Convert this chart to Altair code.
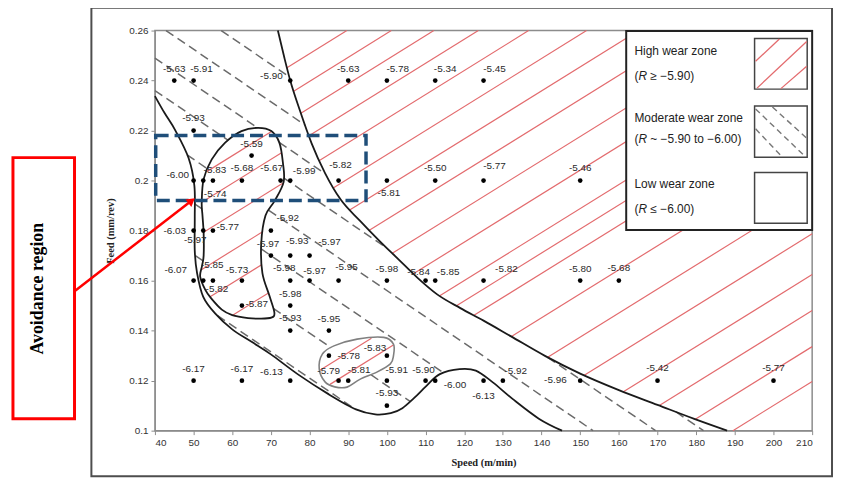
import altair as alt
import numpy as np
import pandas as pd

# ---------------- measured points: speed (m/min), feed (mm/rev), R value ----------------
speed = [45, 50, 75, 90, 100, 112.5, 125,
         50,
         65,
         50, 52.5, 55, 62.5, 72.5, 75, 87.5, 100, 112.5, 125, 150,
         50, 52.5, 55, 70,
         70, 75, 80,
         50, 52.5, 55, 62.5, 75, 80, 87.5, 100, 110, 112.5, 125, 150, 160,
         62.5, 75,
         75, 85,
         85, 100,
         50, 62.5, 75, 87.5, 90, 100, 110, 112.5, 125, 130, 150, 170, 200,
         100]
feed = [0.24, 0.24, 0.24, 0.24, 0.24, 0.24, 0.24,
        0.22,
        0.21,
        0.20, 0.20, 0.20, 0.20, 0.20, 0.20, 0.20, 0.20, 0.20, 0.20, 0.20,
        0.18, 0.18, 0.18, 0.18,
        0.17, 0.17, 0.17,
        0.16, 0.16, 0.16, 0.16, 0.16, 0.16, 0.16, 0.16, 0.16, 0.16, 0.16, 0.16, 0.16,
        0.15, 0.15,
        0.14, 0.14,
        0.13, 0.13,
        0.12, 0.12, 0.12, 0.12, 0.12, 0.12, 0.12, 0.12, 0.12, 0.12, 0.12, 0.12, 0.12,
        0.11]
wear = [-5.63, -5.91, -5.90, -5.63, -5.78, -5.34, -5.45,
        -5.93,
        -5.59,
        -6.00, -5.74, -5.83, -5.68, -5.67, -5.99, -5.82, -5.81, -5.50, -5.77, -5.46,
        -6.03, -5.97, -5.77, -5.92,
        -5.97, -5.93, -5.97,
        -6.07, -5.85, -5.82, -5.73, -5.98, -5.97, -5.95, -5.98, -5.84, -5.85, -5.82, -5.80, -5.68,
        -5.87, -5.98,
        -5.93, -5.95,
        -5.78, -5.83,
        -6.17, -6.17, -6.13, -5.79, -5.81, -5.91, -5.90, -6.00, -6.13, -5.92, -5.96, -5.42, -5.77,
        -5.93]
# label placement relative to its point (pixels)
label_dx = [0, 8, -19, 0, 11, 10, 11,
            0,
            0,
            -16, 12, 2, 0, -9, 14, 2, 2, 0, 11, 0,
            -19, -8, 15, 17,
            -3, 7, 20,
            -18, 9, 4, -5, -6, 5, 8, 0, -7, 13, 23, 0, 0,
            15, 0,
            0, 0,
            20, -12,
            0, 0, -19, -10, 11, 10, -2, 20, 0, 13, -25, 0, 0,
            0]
label_dy = [-12, -12, -5, -12, -12, -12, -12,
            -13,
            -12,
            -6, 14, -11, -13, -13, -10, -16, 13, -13, -15, -13,
            0, 9, -4, -13,
            -12, -15, -14,
            -11, -16, 8, -11, -13, -10, -14, -12, -9, -9, -12, -12, -13,
            -2, -12,
            -13, -12,
            0, -8,
            -12, -12, -9, -10, -11, -11, -11, 4, 16, -10, -1, -13, -13,
            -13]

x_ticks = [40, 50, 60, 70, 80, 90, 100, 110, 120, 130, 140, 150, 160, 170, 180, 190, 200, 210]
y_ticks = [0.10, 0.12, 0.14, 0.16, 0.18, 0.20, 0.22, 0.24, 0.26]

# ---------------- zone boundaries ----------------
high_speed = [71.8, 73.5, 75, 77.5, 80.5, 84, 88, 93, 98, 103, 108, 113, 119, 125, 132, 141, 150, 160, 170, 179.5, 188]
high_feed = [0.26, 0.249, 0.24, 0.228, 0.215, 0.203, 0.1925, 0.184, 0.176, 0.1685, 0.161, 0.1545, 0.149, 0.144,
             0.1378, 0.1298, 0.1228, 0.1162, 0.1103, 0.1047, 0.10]
low_speed = [40, 42.5, 45.3, 48.7, 50.2, 50.3, 50.3, 50.9, 52.5, 55.5, 60, 65, 70, 77, 85, 92, 97, 101, 104, 107,
             110.3, 113.7, 118.8, 123, 127.4, 132.5, 139.3, 145.3]
low_feed = [0.2338, 0.227, 0.22, 0.209, 0.198, 0.185, 0.172, 0.163, 0.1535, 0.147, 0.1405, 0.1355, 0.1305, 0.1225,
            0.1145, 0.1085, 0.1065, 0.107, 0.109, 0.113, 0.118, 0.1226, 0.1246, 0.124, 0.1193, 0.1127, 0.1048, 0.10]
islandB_speed = [52.1, 52.6, 54.7, 58.1, 62.4, 66.7, 70.1, 72.2, 73.1, 73.3, 71, 68.6, 67.5, 67.8, 69.6, 70.9, 70.1,
                 67, 64.1, 60, 57.3, 54.5, 53, 51.7, 52.2, 52.6, 52.6, 52.3]
islandB_feed = [0.1913, 0.2006, 0.2085, 0.2151, 0.2198, 0.2211, 0.2198, 0.2151, 0.2072, 0.1995, 0.192, 0.186, 0.175,
                0.163, 0.154, 0.1472, 0.1452, 0.1448, 0.145, 0.1462, 0.1484, 0.153, 0.1564, 0.1616, 0.166, 0.17,
                0.179, 0.186]
islandC_speed = [82.5, 83.3, 86.3, 92.3, 99.2, 101.7, 101.7, 100.9, 97.4, 93, 89.7, 86.5, 84]
islandC_feed = [0.1247, 0.1306, 0.1339, 0.1366, 0.1373, 0.1346, 0.13, 0.1267, 0.1234, 0.1205, 0.1174, 0.1175, 0.1195]

# hatch families: red lines (high wear) cross feed=0.10 at these speeds; grey dashed (moderate) intercepts
red_slope = 0.00096
red_cross = [-77, -65.5, -54.5, -43, -30, -15, -1.5, 12, 27.5, 41.5, 57.5, 66, 74.5, 93, 111, 128, 145, 160, 175, 189.5]
grey_slope = -0.00105
grey_intercept = [0.205, 0.223, 0.2435, 0.261, 0.278, 0.291, 0.305, 0.320]

# avoidance box (data coords)
box_speed = [40.2, 94.6]
box_feed = [0.192, 0.218]


# ---------------- helpers ----------------
def inside(px, py, polx, poly):
    res = np.zeros(len(px), dtype=bool)
    n = len(polx)
    j = n - 1
    for i in range(n):
        xi, yi, xj, yj = polx[i], poly[i], polx[j], poly[j]
        cond = ((yi > py) != (yj > py)) & (px < (xj - xi) * (py - yi) / ((yj - yi) + 1e-15) + xi)
        res ^= cond
        j = i
    return res


high_px = [71.5] + high_speed + [190, 215, 215]
high_py = [0.27] + high_feed + [0.09, 0.09, 0.27]
low_px = [39] + low_speed + [146, 39]
low_py = [0.2365] + low_feed + [0.09, 0.09]


def zones(sx, sy):
    hi = inside(sx, sy, high_px, high_py)
    b = inside(sx, sy, islandB_speed, islandB_feed)
    c = inside(sx, sy, islandC_speed, islandC_feed)
    lo = inside(sx, sy, low_px, low_py)
    return hi | b | c, lo


def segments(sx, sy, mask):
    rows = []
    idx = np.where(mask)[0]
    if len(idx) == 0:
        return rows
    breaks = np.where(np.diff(idx) > 1)[0]
    starts = np.concatenate([[idx[0]], idx[breaks + 1]])
    ends = np.concatenate([idx[breaks], [idx[-1]]])
    for s, e in zip(starts, ends):
        if e - s < 3:
            continue
        rows.append({'x': sx[s], 'y': sy[s], 'x2': sx[e], 'y2': sy[e]})
    return rows


grid_s = np.linspace(40, 210, 6801)
red_rows, grey_rows = [], []
for s0 in red_cross:
    f = 0.10 + red_slope * (grid_s - s0)
    hi, lo = zones(grid_s, f)
    m = (f >= 0.1) & (f <= 0.26) & hi
    red_rows += segments(grid_s, f, m)
for b in grey_intercept:
    f = b + grey_slope * grid_s
    hi, lo = zones(grid_s, f)
    m = (f >= 0.1) & (f <= 0.26) & ~hi & ~lo
    grey_rows += segments(grid_s, f, m)

red_df = pd.DataFrame(red_rows)
grey_df = pd.DataFrame(grey_rows)

pts = pd.DataFrame({'speed': speed, 'feed': feed, 'lab': [f"{v:.2f}" for v in wear],
                    'dx': label_dx, 'dy': label_dy})


def curve_df(sx, sy):
    return pd.DataFrame({'s': sx, 'f': sy, 'i': list(range(len(sx)))})


LABEL_FONT = "Liberation Sans"
xs = alt.Scale(domain=[40, 210], nice=False, zero=False)
ys = alt.Scale(domain=[0.10, 0.26], nice=False, zero=False)
ax_x = alt.Axis(values=x_ticks, format='d', title='Speed (m/min)', titlePadding=10)
ax_y = alt.Axis(values=y_ticks, format='.2~f', title='Feed (mm/rev)', titlePadding=13)


def X(f):
    return alt.X(f, type='quantitative', scale=xs, axis=ax_x)


def Y(f):
    return alt.Y(f, type='quantitative', scale=ys, axis=ax_y)


dummy = pd.DataFrame({'a': [0]})


def prect(x1, y1, x2, y2, **kw):
    return alt.Chart(dummy).mark_rect(**kw).encode(
        x=alt.value(x1), x2=alt.value(x2), y=alt.value(y1), y2=alt.value(y2))


def pline(x1, y1, x2, y2, **kw):
    return alt.Chart(dummy).mark_rule(**kw).encode(
        x=alt.value(x1), x2=alt.value(x2), y=alt.value(y1), y2=alt.value(y2))


def ptext(x, y, t, **kw):
    return alt.Chart(dummy).mark_text(**kw).encode(x=alt.value(x), y=alt.value(y), text=alt.value(t))


layers = []
layers.append(alt.Chart(red_df).mark_rule(color='#e36b6e', strokeWidth=1.2).encode(
    x=X('x'), y=Y('y'), x2='x2', y2='y2'))
layers.append(alt.Chart(grey_df).mark_rule(color='#6a6a6a', strokeWidth=1.5, strokeDash=[9, 5]).encode(
    x=X('x'), y=Y('y'), x2='x2', y2='y2'))
layers.append(alt.Chart(curve_df(high_speed, high_feed)).mark_line(
    interpolate='monotone', color='#1a1a1a', strokeWidth=1.8).encode(x=X('s'), y=Y('f'), order='i:Q'))
layers.append(alt.Chart(curve_df(low_speed, low_feed)).mark_line(
    interpolate='cardinal', color='#1a1a1a', strokeWidth=1.8).encode(x=X('s'), y=Y('f'), order='i:Q'))
layers.append(alt.Chart(curve_df(islandB_speed, islandB_feed)).mark_line(
    interpolate='cardinal-closed', color='#1a1a1a', strokeWidth=1.8).encode(x=X('s'), y=Y('f'), order='i:Q'))
layers.append(alt.Chart(curve_df(islandC_speed, islandC_feed)).mark_line(
    interpolate='cardinal-closed', color='#808080', strokeWidth=1.6).encode(x=X('s'), y=Y('f'), order='i:Q'))
layers.append(alt.Chart(pts).mark_circle(color='black', size=22, opacity=1).encode(x=X('speed'), y=Y('feed')))

# value labels: one text layer per distinct offset
offsets = sorted(set(zip(label_dx, label_dy)))
for (ddx, ddy) in offsets:
    sub = pts[(pts['dx'] == ddx) & (pts['dy'] == ddy)]
    layers.append(alt.Chart(sub).mark_text(font=LABEL_FONT, fontSize=10, color='#2a2a2a', baseline='middle',
                                           dx=ddx, dy=ddy).encode(x=X('speed'), y=Y('feed'), text='lab:N'))

box_df = pd.DataFrame({'x': [box_speed[0]], 'x2': [box_speed[1]], 'y': [box_feed[0]], 'y2': [box_feed[1]]})
layers.append(alt.Chart(box_df).mark_rect(fillOpacity=0, stroke='#1f4e79', strokeWidth=3.5,
                                          strokeDash=[13, 6]).encode(x=X('x'), x2='x2', y=Y('y'), y2='y2'))

# legend (pixel positions relative to plot origin)
layers.append(prect(474.7, 0.5, 662, 201, fill='white', stroke='#222', strokeWidth=2))
for (a, b_) in [(8, 59), (76, 127.5), (143, 194)]:
    layers.append(prect(604, a, 657, b_, fill='white', stroke='#444', strokeWidth=1.5))
layers.append(pline(605, 31, 629, 8.5, color='#e36b6e', strokeWidth=1.3))
layers.append(pline(606.5, 58, 656.5, 11, color='#e36b6e', strokeWidth=1.3))
layers.append(pline(630.5, 58.5, 656.5, 36, color='#e36b6e', strokeWidth=1.3))
layers.append(pline(605, 79, 654, 126, color='#777', strokeWidth=1.4, strokeDash=[6, 4]))
layers.append(pline(622, 77, 656, 108, color='#777', strokeWidth=1.4, strokeDash=[6, 4]))
layers.append(pline(605, 99, 631, 126.5, color='#777', strokeWidth=1.4, strokeDash=[6, 4]))
leg_font = "Liberation Sans"
leg_style = dict(font=leg_font, fontSize=12, color='#222', align='left', baseline='middle')
for (yy, t) in [(21, 'High wear zone'), (87.7, 'Moderate wear zone'), (154.3, 'Low wear zone')]:
    layers.append(ptext(483, yy, t, **leg_style))
for (yy, t) in [(46, '\u2265 \u22125.90)'), (109.3, '~ \u22125.90 to \u22126.00)'), (179.3, '\u2264 \u22126.00)')]:
    layers.append(ptext(483, yy, '(', **leg_style))
    layers.append(ptext(487, yy, 'R', fontStyle='italic', **leg_style))
    layers.append(ptext(499, yy, t, **leg_style))

# outer frame, avoidance call-out
layers.append(prect(-64, -23, 682, 449, fillOpacity=0, stroke='#4d4d4d', strokeWidth=2))
layers.append(prect(-143, 128, -81, 391, fill='white', stroke='#ff0000', strokeWidth=3))
layers.append(ptext(-113, 260, 'Avoidance region', font='Liberation Serif', fontSize=18, fontWeight='bold',
                    color='black', angle=270, align='center', baseline='alphabetic'))
layers.append(pline(-81, 262.5, 35.5, 172.5, color='#ff0000', strokeWidth=2.5))
layers.append(alt.Chart(dummy).mark_point(shape='triangle-up', filled=True, color='#ff0000', size=90,
                                           opacity=1, angle=52).encode(x=alt.value(37), y=alt.value(171.5)))

chart = alt.layer(*layers).properties(
    width=662, height=403,
    autosize=alt.AutoSizeParams(type='none'),
    padding={'left': 148, 'top': 21, 'right': 22, 'bottom': 48},
).configure_view(stroke='#8c8c8c', strokeWidth=1.5).configure_axis(
    grid=False, domainColor='#8c8c8c', tickColor='#8c8c8c', tickSize=4, labelPadding=3,
    labelFont=LABEL_FONT, labelFontSize=10, labelColor='#333',
    titleFont='Liberation Serif', titleFontWeight='bold', titleFontSize=10.5, titleColor='#222')

chart.save("out.html", embed_options={"renderer": "svg", "actions": False})
